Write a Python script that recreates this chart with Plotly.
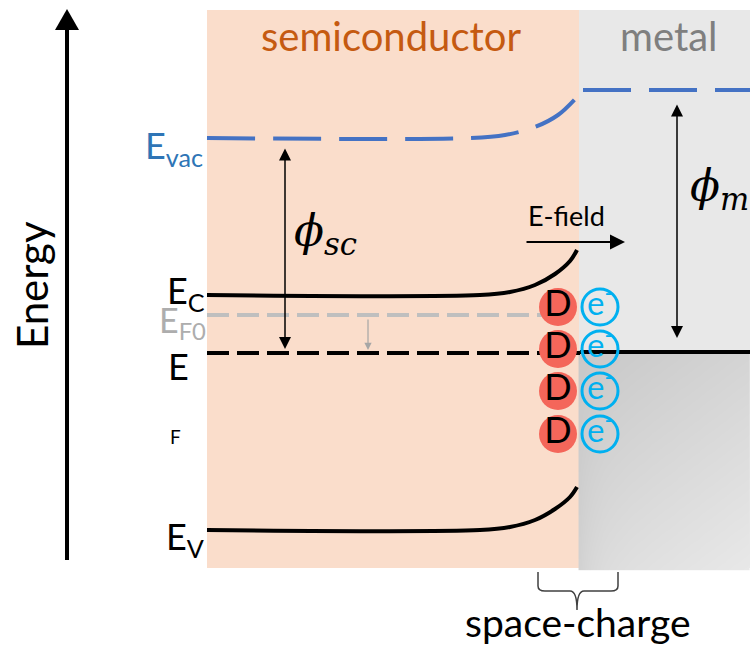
import numpy as np
import plotly.graph_objects as go

# ---------------- data (diagram coordinates, energy axis downward in px-like units)
region_x = [207, 579, 750]            # semiconductor | metal boundaries
region_top, region_bottom = 10, 568

evac_x = [207, 470, 505, 535, 558, 577]
evac_y = [138, 138, 135, 127, 115, 97]
evac_metal_x = [583, 750]
evac_metal_y = [90, 90]

ec_x = [207, 480, 510, 535, 555, 570, 577]
ec_y = [295, 295, 292, 285, 274, 261, 250]

ev_x = [207, 480, 510, 535, 555, 570, 577]
ev_y = [530, 530, 527, 520, 509, 497, 487]

ef0_x = [207, 572]
ef0_y = [315, 315]

ef_sc_x = [207, 580]
ef_sc_y = [353, 353]
ef_m_x = [580, 750]
ef_m_y = [352, 352]

donor_x = [558, 558, 558, 558]
donor_y = [307, 349, 391, 434]
elec_x = [600, 600, 600, 600]
elec_y = [307, 349, 391, 434]

fig = go.Figure()

# metal below Fermi level gradient
gx = np.linspace(580, 750, 60)
gy = np.linspace(352, 568, 60)
GX, GY = np.meshgrid(gx, gy)
Z = 0.80 + 0.10 * (GY - 352) / 216 + 0.06 * (GX - 580) / 170 - 0.05 * np.exp(-(GX - 580) / 15) * ((GY - 352) / 216)
fig.add_trace(go.Heatmap(x=gx, y=gy, z=Z, colorscale=[[0, "rgb(190,190,190)"], [1, "rgb(240,240,240)"]],
                         zmin=0.75, zmax=1.0, showscale=False, zsmooth="best", hoverinfo="skip"))

# bands
fig.add_trace(go.Scatter(x=evac_x, y=evac_y, mode="lines", line=dict(color="#4472C4", width=4, dash="48px,18px", shape="spline")))
fig.add_trace(go.Scatter(x=evac_metal_x, y=evac_metal_y, mode="lines", line=dict(color="#4472C4", width=4, dash="48px,18px")))
fig.add_trace(go.Scatter(x=ec_x, y=ec_y, mode="lines", line=dict(color="black", width=4, shape="spline")))
fig.add_trace(go.Scatter(x=ev_x, y=ev_y, mode="lines", line=dict(color="black", width=4, shape="spline")))
fig.add_trace(go.Scatter(x=ef0_x, y=ef0_y, mode="lines", line=dict(color="#BFBFBF", width=4, dash="22px,8px")))
fig.add_trace(go.Scatter(x=ef_sc_x, y=ef_sc_y, mode="lines", line=dict(color="black", width=4, dash="22px,8px")))

# donors and electrons
fig.add_trace(go.Scatter(x=donor_x, y=donor_y, mode="markers+text", text=["D"] * 4,
                         marker=dict(size=38, color="#F4665A", line=dict(width=0)),
                         textfont=dict(family="Lato", size=36, color="black"), textposition="middle center"))
fig.add_trace(go.Scatter(x=ef_m_x, y=ef_m_y, mode="lines", line=dict(color="black", width=4)))
fig.add_trace(go.Scatter(x=elec_x, y=elec_y, mode="markers+text", text=["e<sup>-</sup>"] * 4,
                         marker=dict(size=36, color="rgba(0,0,0,0)", line=dict(width=3, color="#00B0F0")),
                         textfont=dict(family="Lato", size=33, color="#00B0F0"), textposition="middle center"))

shapes = [
    dict(type="rect", x0=region_x[0], x1=region_x[1], y0=region_top, y1=region_bottom, fillcolor="#FADDCB", line_width=0, layer="below"),
    dict(type="rect", x0=region_x[1], x1=region_x[2], y0=region_top, y1=region_bottom, fillcolor="#E8E8E8", line_width=0, layer="below"),
    # energy axis
    dict(type="line", x0=67, x1=67, y0=560, y1=28, line=dict(color="black", width=4)),
    dict(type="path", path="M 55 30 L 79 30 L 67 9 Z", fillcolor="black", line_width=0),
    # brace
    dict(type="path", path="M 538 572 L 538 586 Q 538 591 545 591 L 570 591 Q 577 591 577 610 Q 577 591 584 591 L 611 591 Q 618 591 618 586 L 618 572",
         line=dict(color="#404040", width=1.5)),
]

ann = []
def txt(x, y, s, size, color="black", xanchor="center", family="Lato", **kw):
    ann.append(dict(x=x, y=y, text=s, showarrow=False, xanchor=xanchor, yanchor="middle",
                    font=dict(family=family, size=size, color=color), **kw))

txt(391, 36, "semiconductor", 40, "#C55A11")
txt(669, 36, "metal", 40, "#7F7F7F")
txt(32, 285, "Energy", 42, textangle=-90)
txt(578, 622, "space-charge", 39)
txt(566, 215, "E-field", 27)
txt(205, 147, "E<sub>vac</sub>", 36, "#2E75B6", xanchor="right")
txt(207, 292, "E<sub>C</sub>", 36, xanchor="right")
txt(208, 322, "E<sub>F0</sub>", 34, "#ADADAD", xanchor="right")
txt(178, 366, "E", 36)
txt(175, 436, "F", 19)
txt(206, 538, "E<sub>V</sub>", 36, xanchor="right")
txt(325, 233, "<i>ϕ<sub>sc</sub></i>", 44, family="DejaVu Serif")
txt(688, 188, "<i>ϕ<sub>m</sub></i>", 44, xanchor="left", family="DejaVu Serif")

# arrows
def arrow(x0, y0, x1, y1, width=1.5, both=False, color="black", head=2, size=1.0):
    ann.append(dict(x=x1, y=y1, ax=x0, ay=y0, xref="x", yref="y", axref="x", ayref="y", text="",
                    showarrow=True, arrowhead=head, arrowsize=size, arrowwidth=width, arrowcolor=color,
                    arrowside="end+start" if both else "end", startarrowhead=head, startarrowsize=size))

arrow(285, 147, 285, 349, width=1.5, both=True, size=1.6)
arrow(677, 103, 677, 338, width=1.5, both=True, size=1.6)
arrow(525, 242, 625, 242, width=2, size=1.5)
arrow(368, 318, 368, 350, width=1.2, color="#A6A6A6", size=1.2)

fig.update_layout(
    width=750, height=645, margin=dict(l=0, r=0, t=0, b=0),
    paper_bgcolor="white", plot_bgcolor="white", showlegend=False,
    xaxis=dict(range=[0, 750], visible=False, fixedrange=True),
    yaxis=dict(range=[645, 0], visible=False, fixedrange=True),
    shapes=shapes, annotations=ann,
)
fig.write_html("out.html")
